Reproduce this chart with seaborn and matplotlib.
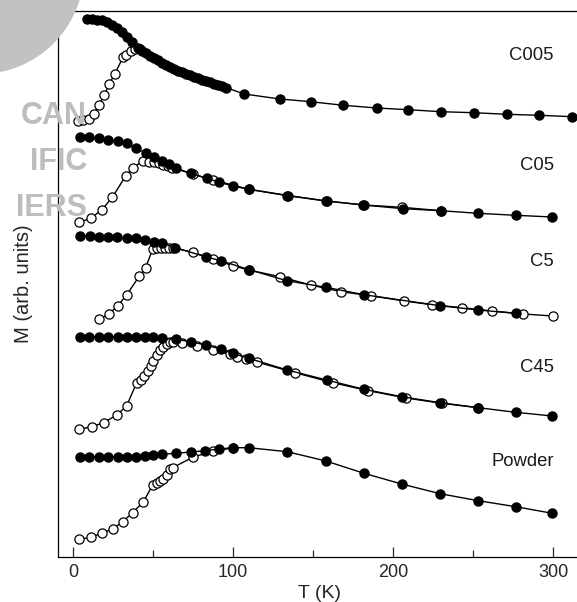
import numpy as np
import pandas as pd
import matplotlib
matplotlib.use("Agg")
import matplotlib.pyplot as plt
import matplotlib.patches as mpatches
import seaborn as sns

# ---------------- data (T in K, M in arbitrary units incl. vertical offset) ----------------
c005_fc_T = [8.5, 11.7, 14.8, 17.9, 21, 24.2, 27.3, 30.4, 33.5, 36.7, 40.8, 43, 45.5, 48, 50.5, 53, 55.5,
             58, 60.5, 63, 65.5, 68, 70.5, 73, 75.5, 78, 80.5, 83, 85.5, 88, 90.5, 93, 95.5, 107, 129.4,
             148.5, 169, 189.8, 209.6, 230, 250.6, 271, 291.5, 312]
c005_fc_M = [53.8, 53.75, 53.7, 53.65, 53.5, 53.2, 52.9, 52.5, 52.0, 51.5, 50.9, 50.6, 50.35, 50.1, 49.85,
             49.62, 49.4, 49.2, 49.0, 48.8, 48.6, 48.43, 48.27, 48.12, 47.97, 47.83, 47.7, 47.57, 47.43,
             47.3, 47.15, 47.02, 46.9, 46.25, 45.75, 45.48, 45.12, 44.85, 44.68, 44.48, 44.38, 44.22,
             44.12, 43.98]
c005_zfc_T = [3.3, 6.4, 10, 13.1, 16.25, 19.6, 22.7, 26.25, 31.5, 33.1, 36, 38.75, 41.9]
c005_zfc_M = [43.55, 43.65, 43.8, 44.25, 45.2, 46.15, 47.25, 48.3, 50.0, 50.2, 50.6, 50.75, 50.8]

c05_fc_T = [4.4, 10.2, 16.25, 22.1, 27.9, 33.5, 39.4, 45.4, 50.8, 55.4, 60.2, 64.4, 73.5, 83.5, 91.5,
            99.8, 109.8, 134, 158, 181.5, 206.5, 229.8, 252.9, 276.7, 299.6]
c05_fc_M = [41.98, 41.92, 41.82, 41.68, 41.55, 41.32, 40.82, 40.35, 39.92, 39.55, 39.22, 38.82, 38.32,
            37.82, 37.42, 37.05, 36.72, 36.08, 35.55, 35.15, 34.78, 34.58, 34.32, 34.12, 33.95]
c05_zfc_T = [4, 11, 17.9, 24.6, 32.9, 37.3, 44, 47.5, 50.5, 53.5, 56.5, 59.5, 62, 75.2, 87.7, 110,
             134.5, 158.5, 182, 205.4, 230]
c05_zfc_M = [33.42, 33.82, 34.65, 35.92, 38.05, 38.88, 39.55, 39.5, 39.45, 39.35, 39.2, 39.05, 38.9,
             38.22, 37.65, 36.72, 36.1, 35.55, 35.15, 34.92, 34.58]

c5_fc_T = [4.4, 10.6, 16.25, 22.1, 27.7, 33.5, 39.4, 45, 50.8, 55.4, 63.75, 82.9, 92.3, 109.8, 133.5,
           158.1, 181.9, 229.4, 253.3, 276.7]
c5_fc_M = [32.08, 32.05, 31.98, 31.95, 31.92, 31.88, 31.82, 31.65, 31.48, 31.38, 30.88, 29.98, 29.58,
           28.7, 27.58, 26.92, 26.18, 25.08, 24.65, 24.32]
c5_zfc_T = [16.25, 22.5, 27.9, 33.5, 41.5, 45.4, 49.8, 52.3, 54.8, 57.5, 60, 62.7, 74.8, 87.7, 99.8,
            109.8, 129.4, 148.5, 167.5, 186, 207, 224.2, 243.3, 262, 281.5, 299.8]
c5_zfc_M = [23.75, 24.22, 25.08, 26.15, 28.05, 28.88, 30.75, 30.82, 30.85, 30.88, 30.88, 30.88, 30.42,
            29.75, 29.08, 28.65, 27.98, 27.15, 26.48, 26.08, 25.55, 25.18, 24.88, 24.55, 24.25, 24.05]

c45_fc_T = [4.4, 10.2, 16.25, 22.1, 27.9, 33.5, 39.4, 45, 50.2, 55.4, 64.4, 73.5, 83.1, 92.3, 99.8,
            109.8, 133.9, 158.5, 181.9, 205.4, 229.4, 253.3, 276.7, 299.6]
c45_fc_M = [21.98, 21.98, 21.98, 21.98, 21.98, 21.98, 21.98, 21.95, 21.92, 21.82, 21.72, 21.48, 21.15,
            20.75, 20.32, 19.82, 18.65, 17.65, 16.72, 15.98, 15.38, 14.88, 14.42, 14.05]
c45_zfc_T = [4, 11.7, 19.2, 27.3, 33.5, 39.8, 42.3, 44.6, 47.1, 48.6, 50.2, 52.3, 54.4, 56.5, 58.5,
             60.6, 62.3, 67.9, 77.7, 87.7, 98.1, 102.7, 108.1, 114.8, 138.8, 162.3, 184.6, 208.1,
             230.4, 253.3]
c45_zfc_M = [12.72, 12.98, 13.38, 14.15, 15.05, 17.38, 17.65, 18.05, 18.58, 19.05, 19.58, 20.15, 20.65,
             20.98, 21.25, 21.42, 21.42, 21.38, 21.08, 20.65, 20.22, 19.98, 19.72, 19.45, 18.38, 17.38,
             16.58, 15.85, 15.32, 14.88]

powder_fc_T = [4.4, 10.2, 16.25, 22.1, 27.9, 33.5, 39.4, 45, 50.2, 55.4, 64.4, 73.5, 82.5, 91.5, 99.8,
               109.8, 133.9, 158.1, 181.9, 205.4, 229.4, 253.3, 276.7, 299.6]
powder_fc_M = [9.98, 9.98, 9.98, 9.98, 9.98, 9.98, 9.98, 10.05, 10.12, 10.22, 10.32, 10.45, 10.58,
               10.75, 10.88, 10.88, 10.48, 9.55, 8.32, 7.25, 6.28, 5.58, 4.98, 4.32]
powder_zfc_T = [4, 11.25, 17.9, 24.8, 31, 37.3, 44, 49.8, 52.3, 54.4, 56.5, 58.5, 60.6, 62.3, 74.8,
                87.7, 99.8]
powder_zfc_M = [1.72, 1.92, 2.32, 2.75, 3.48, 4.38, 5.48, 7.15, 7.38, 7.55, 7.72, 8.15, 8.72, 8.88,
                9.92, 10.55, 10.85]

sample_labels = ["C005", "C05", "C5", "C45", "Powder"]
label_M = [50.05, 39.1, 29.55, 18.85, 9.55]
x_ticks = [0, 100, 200, 300]
x_minor = [50, 150, 250]
watermark_words = ["CAN", "IFIC", "IERS"]

curves = [
    ("C005", "ZFC", c005_zfc_T, c005_zfc_M), ("C005", "FC", c005_fc_T, c005_fc_M),
    ("C05", "ZFC", c05_zfc_T, c05_zfc_M), ("C05", "FC", c05_fc_T, c05_fc_M),
    ("C5", "FC", c5_fc_T, c5_fc_M), ("C5", "ZFC", c5_zfc_T, c5_zfc_M),
    ("C45", "ZFC", c45_zfc_T, c45_zfc_M), ("C45", "FC", c45_fc_T, c45_fc_M),
    ("Powder", "ZFC", powder_zfc_T, powder_zfc_M), ("Powder", "FC", powder_fc_T, powder_fc_M),
]
df = pd.concat([pd.DataFrame({"T": t, "M": m, "sample": s, "mode": md}) for s, md, t, m in curves],
               ignore_index=True)

# ---------------- style ----------------
sns.set_style("ticks")
plt.rcParams["font.family"] = ["Liberation Sans", "DejaVu Sans"]

fig = plt.figure(figsize=(5.77, 6.02), dpi=100)
W, H = 577.0, 602.0

# watermark (grey blob and faded letters in the upper-left corner)
blob = mpatches.Ellipse((-20 / W, 1 - (-30) / H), 2 * 104 / W, 2 * 104 / H,
                        transform=fig.transFigure, facecolor="#c2c2c2", edgecolor="none", zorder=0)
fig.patches.append(blob)
for txt, ybase in zip(watermark_words, [124, 170, 216]):
    fig.text(87 / W, 1 - ybase / H, txt, ha="right", va="baseline", fontsize=22,
             fontweight="bold", color="#bdbdbd", zorder=0)

ax = fig.add_axes([58 / W, 45.5 / H, 523.8 / W, 545.5 / H])
ax.patch.set_alpha(0)

for (s, md), sub in df.groupby(["sample", "mode"], sort=False):
    filled = md == "FC"
    sns.lineplot(data=sub, x="T", y="M", ax=ax, estimator=None, sort=False, color="black",
                 linewidth=1.0, marker="o", markersize=6.6,
                 markerfacecolor="black" if filled else "white",
                 markeredgecolor="black", markeredgewidth=0.9, zorder=3 if filled else 2)

for lab, ym in zip(sample_labels, label_M):
    ax.text(300.5, ym, lab, ha="right", va="center", fontsize=13.3, color="#1a1a1a")

ax.set_xlim(-9.375, 318)
ax.set_ylim(0, 54.55)
ax.set_xticks(x_ticks)
ax.set_xticks(x_minor, minor=True)
ax.set_yticks([])
ax.tick_params(axis="x", which="major", direction="in", length=7.2, width=0.9, labelsize=13,
               pad=5.5, top=False)
ax.tick_params(axis="x", which="minor", direction="in", length=5, width=0.9, top=False)
ax.set_xlabel("T (K)", fontsize=14, labelpad=3)
ax.set_ylabel("M (arb. units)", fontsize=14.5, labelpad=18)
for sp in ["top", "left", "bottom", "right"]:
    ax.spines[sp].set_linewidth(0.9)
    ax.spines[sp].set_color("black")

fig.savefig("out.png", dpi=100)
